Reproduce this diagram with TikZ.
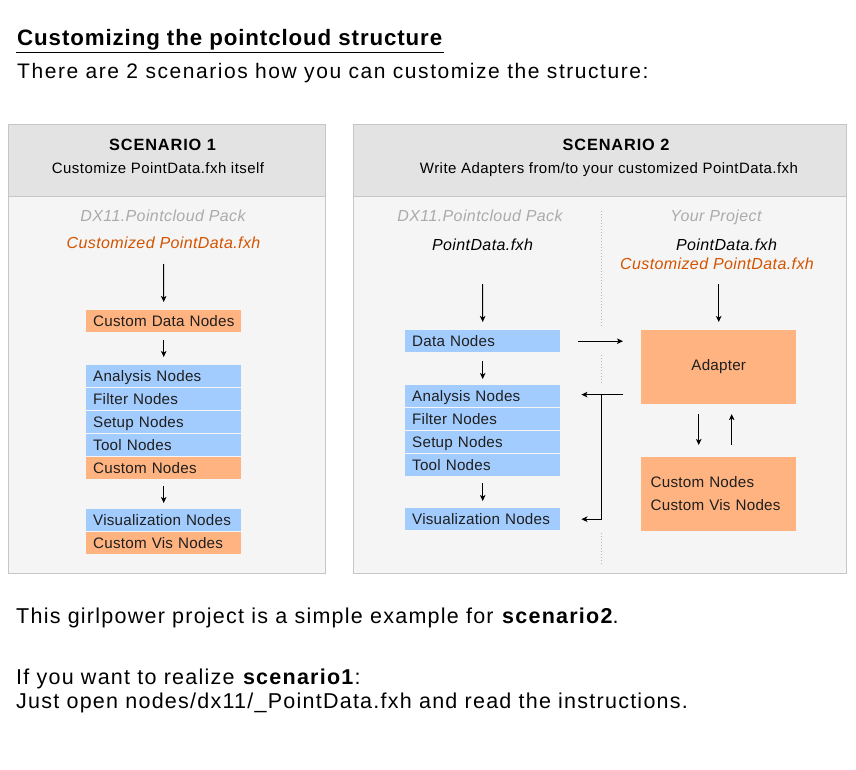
\documentclass[tikz,border=0pt]{standalone}
\usepackage{fontspec}
\setmainfont{Liberation Sans}
\usetikzlibrary{arrows.meta}
\definecolor{hdrgray}{HTML}{E3E3E3}
\definecolor{bodygray}{HTML}{F5F5F5}
\definecolor{framegray}{HTML}{C6C6C6}
\definecolor{bluebox}{HTML}{A3CCFE}
\definecolor{orangebox}{HTML}{FFB380}
\definecolor{orangetext}{HTML}{D35400}
\definecolor{graytext}{HTML}{ABABAB}
\definecolor{dotgray}{HTML}{B4B4B4}
\newcommand\myfs[2]{\fontsize{#1}{#2}\selectfont}
\newcommand\myls[1]{\addfontfeature{LetterSpace=#1}}
\begin{document}
\begin{tikzpicture}[x=1pt,y=-1pt,
  lbl/.style={inner sep=0pt, anchor=base},
  boxfont/.style={font=\myfs{15.2}{23}\myls{1.5}},
  nodebox/.style={anchor=north west, minimum width=155pt, minimum height=22pt,
    inner xsep=7pt, inner ysep=0pt, text width=141pt, align=left,
    text height=12pt, text depth=2pt, boxfont, text=black!88},
  bluenode/.style={nodebox, fill=bluebox},
  orangenode/.style={nodebox, fill=orangebox},
  bigbox/.style={anchor=north west, fill=orangebox, minimum width=155pt,
    minimum height=73.7pt, inner ysep=0pt, boxfont, text=black!88},
  arr/.style={-{Stealth[length=6pt,width=5.5pt,inset=1.5pt]}, line width=1pt},
  divider/.style={dotgray, line width=1pt, dash pattern=on 1pt off 2pt},
  hdrtitle/.style={lbl, font=\myfs{16.3}{19}\bfseries\myls{5.5}},
  hdrsub/.style={lbl, font=\myfs{15}{18}\myls{3}},
  packlbl/.style={lbl, text=graytext, font=\myfs{16}{19}\itshape\myls{2.5}},
  filelbl/.style={lbl, text=black, font=\myfs{16}{19}\itshape\myls{2.5}},
  custlbl/.style={lbl, text=orangetext, font=\myfs{16}{19}\itshape\myls{2.5}},
  bodytext/.style={inner sep=0pt, anchor=base west, font=\myfs{21.5}{24}\myls{5.8}}
]
\useasboundingbox (0,0) rectangle (856,770);
\fill[white] (0,0) rectangle (856,770);

% heading
\node[inner sep=0pt, anchor=base west, font=\myfs{22.3}{26}\bfseries\myls{4}] (title) at (17,46) {Customizing the pointcloud structure};
\draw[line width=1pt] ([xshift=-1.5pt,yshift=-6.3pt]title.base west) -- ([xshift=1.5pt,yshift=-6.3pt]title.base east);
\node[inner sep=0pt, anchor=base west, font=\myfs{21}{24}\myls{7.4}] (intro) at (17,79) {There are 2 scenarios how you can customize the structure:};

% scenario frames
\fill[hdrgray] (8,124) rectangle (325,196);
\fill[bodygray] (8,196) rectangle (325,573);
\draw[framegray] (8,124) rectangle (325,573);
\draw[framegray] (8,196) -- (325,196);
\fill[hdrgray] (353,124) rectangle (846,196);
\fill[bodygray] (353,196) rectangle (846,573);
\draw[framegray] (353,124) rectangle (846,573);
\draw[framegray] (353,196) -- (846,196);

% scenario 1
\node[hdrtitle] (s1title) at (162.5,151) {SCENARIO 1};
\node[hdrsub] (s1sub) at (158,174) {Customize PointData.fxh itself};
\node[packlbl] (s1pack) at (163,222) {DX11.Pointcloud Pack};
\node[custlbl] (s1cust) at (163.5,248) {Customized PointData.fxh};
\node[orangenode] (s1cdn) at (86,310) {\mbox{Custom Data Nodes}};
\node[bluenode] (s1ana) at (86,365) {\mbox{Analysis Nodes}};
\node[bluenode] (s1fil) at (86,388) {\mbox{Filter Nodes}};
\node[bluenode] (s1set) at (86,411) {\mbox{Setup Nodes}};
\node[bluenode] (s1tool) at (86,434) {\mbox{Tool Nodes}};
\node[orangenode] (s1cn) at (86,457) {\mbox{Custom Nodes}};
\node[bluenode] (s1vis) at (86,509) {\mbox{Visualization Nodes}};
\node[orangenode] (s1cvis) at (86,532) {\mbox{Custom Vis Nodes}};
\draw[arr] ([yshift=-16pt]s1cust.base) -- ([yshift=8pt]s1cdn.north);
\draw[arr] ([yshift=-8pt]s1cdn.south) -- ([yshift=8pt]s1ana.north);
\draw[arr] ([yshift=-7pt]s1cn.south) -- ([yshift=6pt]s1vis.north);

% scenario 2
\node[hdrtitle] (s2title) at (616,151) {SCENARIO 2};
\node[hdrsub] (s2sub) at (609,174) {Write Adapters from/to your customized PointData.fxh};
\node[packlbl] (s2pack) at (480,222) {DX11.Pointcloud Pack};
\node[filelbl] (s2pd) at (482.5,250) {PointData.fxh};
\node[packlbl] (ypack) at (716,222) {Your Project};
\node[filelbl] (ypd) at (726.5,250) {PointData.fxh};
\node[custlbl] (ycust) at (717,269) {Customized PointData.fxh};

\node[bluenode] (s2dn) at (405,330) {\mbox{Data Nodes}};
\node[bluenode] (s2ana) at (405,385) {\mbox{Analysis Nodes}};
\node[bluenode] (s2fil) at (405,408) {\mbox{Filter Nodes}};
\node[bluenode] (s2set) at (405,431) {\mbox{Setup Nodes}};
\node[bluenode] (s2tool) at (405,454) {\mbox{Tool Nodes}};
\node[bluenode] (s2vis) at (405,508) {\mbox{Visualization Nodes}};

\node[bigbox, align=center, text width=141pt] (adapter) at (641,330) {Adapter};
\node[bigbox, align=left, text width=136pt, inner xsep=9.5pt] (cnodes) at (641,457) {Custom Nodes\\Custom Vis Nodes};

% divider
\coordinate (divx) at (601.5,0);
\draw[divider] (601.5,211) -- (601.5,327);
\draw[divider] (601.5,355) -- (601.5,383);
\draw[divider] (601.5,533) -- (601.5,565);

\draw[arr] ([yshift=-34pt]s2pd.base) -- ([yshift=8pt]s2dn.north);
\draw[arr] ([yshift=-9pt]s2dn.south) -- ([yshift=6pt]s2ana.north);
\draw[arr] ([yshift=-7pt]s2tool.south) -- ([yshift=7pt]s2vis.north);
\draw[arr] (ycust.base -| adapter.north) ++(0,15) -- ([yshift=8pt]adapter.north);

\draw[arr] ([xshift=18pt]s2dn.east) -- ([xshift=-18pt]adapter.west |- s2dn.east);
\coordinate (r0) at ([xshift=-18pt,yshift=9.5pt]adapter.south west);
\draw[arr] (r0) -- ([xshift=21pt]s2ana.east |- r0);
\draw[arr] (r0 -| divx) |- ([xshift=21pt]s2vis.east);

\draw[arr] ([xshift=-20pt,yshift=-10pt]adapter.south) -- ([xshift=-20pt,yshift=12pt]cnodes.north);
\draw[arr] ([xshift=13pt,yshift=12pt]cnodes.north) -- ([xshift=13pt,yshift=-10pt]adapter.south);

% bottom text
\node[bodytext] (note1) at (16,623) {This girlpower project is a simple example for \textbf{scenario2}.};
\node[bodytext] (note2) at (16,684) {If you want to realize \textbf{scenario1}:};
\node[bodytext] (note3) at (16,708) {Just open nodes/dx11/\_PointData.fxh and read the instructions.};
\end{tikzpicture}
\end{document}
